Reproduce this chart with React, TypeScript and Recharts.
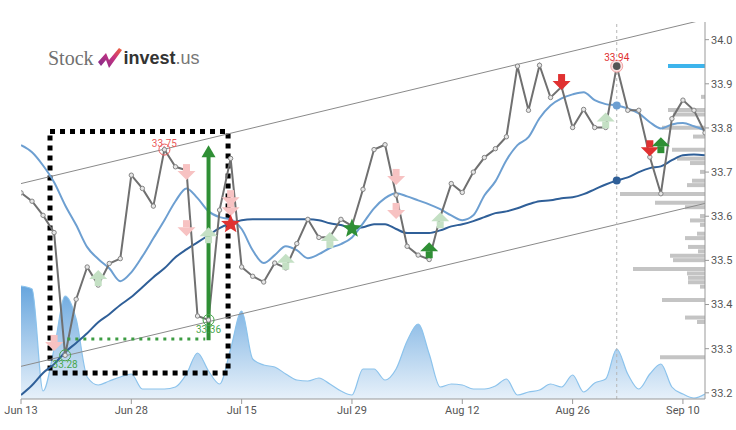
import React from "react";
import {
  ComposedChart,
  Line,
  Area,
  Bar,
  Cell,
  Scatter,
  XAxis,
  YAxis,
  ReferenceLine,
  ReferenceArea,
} from "recharts";

// trading-day index of each x tick and its label
const tickDays = [0, 10, 20, 30, 40, 50, 60];
const tickLabels = ["Jun 13", "Jun 28", "Jul 15", "Jul 29", "Aug 12", "Aug 26", "Sep 10"];
const priceTicks = [33.2, 33.3, 33.4, 33.5, 33.6, 33.7, 33.8, 33.9, 34.0];

const closes = [
  33.653, 33.634, 33.602, 33.563, 33.285, 33.412, 33.485, 33.444, 33.493, 33.504,
  33.693, 33.663, 33.623, 33.751, 33.712, 33.704, 33.374, 33.365, 33.614, 33.731,
  33.485, 33.464, 33.451, 33.494, 33.483, 33.538, 33.593, 33.552, 33.553, 33.593,
  33.578, 33.661, 33.751, 33.762, 33.648, 33.532, 33.512, 33.502, 33.598, 33.674,
  33.654, 33.7, 33.733, 33.753, 33.78, 33.94, 33.84, 33.942, 33.869, 33.893,
  33.801, 33.842, 33.801, 33.801, 33.94, 33.84, 33.84, 33.734, 33.651, 33.821,
  33.863, 33.84, 33.789,
];

const maFast = [
  33.761, 33.745, 33.715, 33.677, 33.625, 33.58, 33.53, 33.503, 33.482, 33.453,
  33.473, 33.509, 33.55, 33.591, 33.634, 33.663, 33.641, 33.611, 33.598, 33.593,
  33.571, 33.523, 33.494, 33.512, 33.532, 33.523, 33.505, 33.514, 33.528, 33.537,
  33.552, 33.584, 33.618, 33.641, 33.652, 33.645, 33.636, 33.627, 33.616, 33.602,
  33.591, 33.602, 33.647, 33.679, 33.727, 33.761, 33.779, 33.822, 33.851, 33.867,
  33.876, 33.881, 33.863, 33.854, 33.851, 33.844, 33.833, 33.813, 33.799, 33.808,
  33.811, 33.804, 33.795,
];

const maSlow = [
  33.195, 33.217, 33.245, 33.265, 33.292, 33.313, 33.335, 33.36, 33.378, 33.399,
  33.417, 33.439, 33.462, 33.482, 33.507, 33.525, 33.541, 33.557, 33.573, 33.584,
  33.591, 33.593, 33.593, 33.593, 33.593, 33.593, 33.593, 33.591, 33.584, 33.58,
  33.573, 33.575, 33.582, 33.582, 33.571, 33.562, 33.562, 33.562, 33.568, 33.577,
  33.582, 33.589, 33.598, 33.607, 33.611, 33.618, 33.627, 33.634, 33.636, 33.641,
  33.643, 33.65, 33.661, 33.672, 33.681, 33.688, 33.7, 33.709, 33.713, 33.727,
  33.738, 33.74, 33.738,
];

// daily volume, thousands
const volume = [
  1130, 1100, 80, 500, 1030, 800, 220, 140, 180, 220,
  250, 100, 100, 100, 120, 250, 460, 280, 150, 500,
  880, 400, 340, 320, 250, 190, 180, 210, 150, 80,
  40, 300, 300, 190, 300, 580, 750, 450, 120, 150,
  140, 100, 100, 130, 200, 40, 70, 90, 150, 120,
  240, 70, 160, 200, 500, 250, 100, 250, 350, 120,
  50, 10, 50,
];

// trend channel end points [day, price]
const channelTop = [[0, 33.674], [62, 34.046]];
const channelBottom = [[0, 33.26], [62, 33.629]];

// volume at price (right side), first row is the highlighted level
const profilePrice = [
  33.94, 33.87, 33.84, 33.83, 33.8, 33.78, 33.75, 33.73, 33.72, 33.7, 33.68, 33.67,
  33.65, 33.63, 33.62, 33.6, 33.59, 33.58, 33.56, 33.55, 33.53, 33.52, 33.51, 33.5,
  33.48, 33.47, 33.46, 33.45, 33.44, 33.41, 33.37, 33.36, 33.28,
];
const profileVol = [
  37, 4, 37, 32, 43, 12, 33, 28, 15, 5, 13, 18,
  85, 50, 20, 5, 15, 5, 8, 20, 17, 7, 35, 32,
  72, 18, 17, 17, 5, 43, 20, 8, 45,
];

// signals [day, price, strong]
const sellSignals = [
  [3, 33.313, 0], [15, 33.7, 0], [15, 33.573, 0], [19, 33.641, 0], [19, 33.618, 0],
  [34, 33.689, 0], [34, 33.612, 0], [49, 33.904, 1], [57, 33.754, 1],
];
const buySignals = [
  [7, 33.46, 0], [17, 33.557, 0], [24, 33.497, 0], [28, 33.546, 0], [37, 33.523, 1],
  [38, 33.591, 0], [53, 33.817, 0], [58, 33.761, 1],
];
const starSignals = [[19, 33.582, "sell"], [30, 33.572, "buy"]];

// marked highs and lows [day, price, label, kind]
const pivots = [
  [4, 33.285, "33.28", "low"],
  [17, 33.365, "33.36", "low"],
  [13, 33.751, "33.75", "high"],
  [54, 33.94, "33.94", "top"],
];

const RED = "#e03131";
const GREEN = "#2f8f35";
const PINK = "#f7c2c2";
const PALE_GREEN = "#c4e0c4";

const rows = closes.map((c, i) => ({ i, close: c, fast: maFast[i], slow: maSlow[i], vol: volume[i] }));
const sells = sellSignals.map(([i, p, s]) => ({ i, p, s }));
const buys = buySignals.map(([i, p, s]) => ({ i, p, s }));
const stars = starSignals.map(([i, p, k]) => ({ i, p, k }));
const pivotRows = pivots.map(([i, p, label, kind]) => ({ i, p, label, kind }));
const profile = profilePrice.map((price, k) => ({ price, vol: profileVol[k] }));

const DOMAIN: [number, number] = [33.186, 34.04];

function SellArrow(props: any) {
  const { cx, cy, payload } = props;
  const c = payload.s ? RED : PINK;
  return (
    <g>
      <rect x={cx - 3.5} y={cy - 8} width={7} height={7} fill={c} />
      <polygon points={`${cx - 9},${cy - 1} ${cx + 9},${cy - 1} ${cx},${cy + 8}`} fill={c} />
    </g>
  );
}

function BuyArrow(props: any) {
  const { cx, cy, payload } = props;
  const c = payload.s ? GREEN : PALE_GREEN;
  return (
    <g>
      <polygon points={`${cx - 9},${cy + 1} ${cx + 9},${cy + 1} ${cx},${cy - 8}`} fill={c} />
      <rect x={cx - 3.5} y={cy + 1} width={7} height={7} fill={c} />
    </g>
  );
}

function Star(props: any) {
  const { cx, cy, payload } = props;
  const pts: string[] = [];
  for (let k = 0; k < 10; k++) {
    const r = k % 2 === 0 ? 10 : 4.3;
    const a = -Math.PI / 2 + (k * Math.PI) / 5;
    pts.push(`${cx + r * Math.cos(a)},${cy + r * Math.sin(a)}`);
  }
  return <polygon points={pts.join(" ")} fill={payload.k === "sell" ? RED : GREEN} />;
}

function Pivot(props: any) {
  const { cx, cy, payload } = props;
  if (payload.kind === "top") {
    return (
      <g>
        <circle cx={cx} cy={cy} r={6} fill="#fbe3e3" stroke="#f3a3a3" strokeWidth={1} />
        <circle cx={cx} cy={cy} r={3.8} fill="#555" />
        <text x={cx} y={cy - 5} textAnchor="middle" fontSize={10} fill={RED} fontFamily="Roboto">
          {payload.label}
        </text>
      </g>
    );
  }
  const c = payload.kind === "low" ? "#48a64e" : "#ea5a5a";
  const ty = payload.kind === "low" ? cy + 13 : cy - 3;
  return (
    <g>
      <circle cx={cx} cy={cy} r={5.5} fill="none" stroke={c} strokeWidth={1} />
      <text x={cx} y={ty} textAnchor="middle" fontSize={10} fill={c} fontFamily="Roboto">
        {payload.label}
      </text>
    </g>
  );
}

function UpArrowLine(props: any) {
  const { x1, y1, x2, y2 } = props;
  return (
    <g>
      <line x1={x1} y1={y1} x2={x2} y2={y2 + 10} stroke={GREEN} strokeWidth={4} />
      <polygon points={`${x2 - 7},${y2 + 12} ${x2 + 7},${y2 + 12} ${x2},${y2}`} fill={GREEN} />
    </g>
  );
}

const markAt = (color: string) => (p: any) =>
  p.index === 54 ? <circle key={p.index} cx={p.cx} cy={p.cy} r={4} fill={color} /> : <g key={p.index} />;

function Logo() {
  return (
    <div style={{ position: "absolute", left: 48, top: 45, display: "flex", alignItems: "center", height: 26 }}>
      <span style={{ fontFamily: '"Liberation Serif", serif', fontSize: 20, color: "#707070" }}>Stock</span>
      <svg width={26} height={22} style={{ margin: "0 1px 0 3px" }}>
        <defs>
          <linearGradient id="lg" x1="0" y1="1" x2="1" y2="0">
            <stop offset="0" stopColor="#7a2a8c" />
            <stop offset="0.6" stopColor="#c8337f" />
            <stop offset="1" stopColor="#f0643a" />
          </linearGradient>
        </defs>
        <path d="M1 15 L9 6 L12 13 L22 1 L25 3 L12 21 L9 13 L4 19 Z" fill="url(#lg)" />
      </svg>
      <span style={{ fontFamily: '"Liberation Sans", sans-serif', fontSize: 18, fontWeight: 700, color: "#333" }}>
        invest
      </span>
      <span style={{ fontFamily: '"Liberation Sans", sans-serif', fontSize: 18, color: "#777" }}>.us</span>
    </div>
  );
}

export default function App() {
  return (
    <div style={{ position: "absolute", left: 0, top: 0, width: 736, height: 430, background: "#fff" }}>
      {/* volume-at-price bars sit underneath the price chart */}
      <div style={{ position: "absolute", left: 0, top: 0 }}>
        <ComposedChart
          width={736}
          height={430}
          data={profile}
          layout="vertical"
          margin={{ top: 22, right: 31, left: 21, bottom: 31 }}
        >
          <XAxis type="number" domain={[0, 684]} reversed hide allowDataOverflow />
          <YAxis type="number" dataKey="price" domain={DOMAIN} reversed hide allowDataOverflow />
          <Bar dataKey="vol" barSize={4} isAnimationActive={false}>
            {profile.map((_, k) => (
              <Cell key={k} fill={k === 0 ? "#3db4ec" : "#c4c4c4"} />
            ))}
          </Bar>
        </ComposedChart>
      </div>
      <div style={{ position: "absolute", left: 0, top: 0 }}>
        <ComposedChart width={736} height={430} data={rows} margin={{ top: 22, right: 0, left: 21, bottom: 6 }}>
          <defs>
            <linearGradient id="volFill" gradientUnits="userSpaceOnUse" x1="0" y1="282" x2="0" y2="399">
              <stop offset="0" stopColor="#5a9edb" stopOpacity={0.95} />
              <stop offset="1" stopColor="#e4eff9" stopOpacity={0.9} />
            </linearGradient>
          </defs>
          <XAxis
            type="number"
            dataKey="i"
            domain={[0, 62]}
            allowDataOverflow
            ticks={tickDays}
            tickFormatter={(v) => tickLabels[tickDays.indexOf(v)]}
            height={25}
            tickSize={5}
            stroke="#999"
            tick={{ fill: "#555", fontSize: 11, fontFamily: "Roboto" }}
          />
          <YAxis
            yAxisId="p"
            orientation="right"
            domain={DOMAIN}
            allowDataOverflow
            ticks={priceTicks}
            tickFormatter={(v) => v.toFixed(1)}
            width={31}
            tickSize={4}
            stroke="#999"
            tick={{ fill: "#555", fontSize: 11, fontFamily: "Roboto" }}
          />
          <YAxis yAxisId="v" hide domain={[0, 3770]} allowDataOverflow />
          <Area
            yAxisId="v"
            type="monotone"
            dataKey="vol"
            stroke="#8cc3ec"
            strokeWidth={1.2}
            fill="url(#volFill)"
            fillOpacity={1}
            isAnimationActive={false}
          />
          <ReferenceLine
            yAxisId="p"
            segment={channelTop.map(([x, y]) => ({ x, y }))}
            stroke="#8a8a8a"
            strokeWidth={1}
            ifOverflow="hidden"
          />
          <ReferenceLine
            yAxisId="p"
            segment={channelBottom.map(([x, y]) => ({ x, y }))}
            stroke="#8a8a8a"
            strokeWidth={1}
            ifOverflow="hidden"
          />
          <ReferenceLine yAxisId="p" x={54} stroke="#b5b5b5" strokeDasharray="3 3" />
          <Line
            yAxisId="p"
            type="monotone"
            dataKey="slow"
            stroke="#2f5f98"
            strokeWidth={2}
            dot={markAt("#2f5f98")}
            isAnimationActive={false}
          />
          <Line
            yAxisId="p"
            type="monotone"
            dataKey="fast"
            stroke="#6d9fd1"
            strokeWidth={2}
            dot={markAt("#6d9fd1")}
            isAnimationActive={false}
          />
          <Line
            yAxisId="p"
            type="linear"
            dataKey="close"
            stroke="#707070"
            strokeWidth={2}
            dot={{ r: 2.2, fill: "#e6e6e6", stroke: "#858585", strokeWidth: 1 }}
            isAnimationActive={false}
          />
          <ReferenceArea
            yAxisId="p"
            x1={2.63}
            x2={18.77}
            y1={33.245}
            y2={33.792}
            fill="none"
            fillOpacity={0}
            stroke="#000"
            strokeWidth={5}
            strokeDasharray="5 5"
          />
          <ReferenceLine
            yAxisId="p"
            segment={[{ x: 4.2, y: 33.322 }, { x: 16.7, y: 33.322 }]}
            stroke="#3d9c43"
            strokeWidth={3}
            strokeDasharray="3 5"
          />
          <ReferenceLine
            yAxisId="p"
            segment={[{ x: 17, y: 33.319 }, { x: 17, y: 33.761 }]}
            shape={UpArrowLine}
          />
          <Scatter yAxisId="p" data={sells} dataKey="p" shape={SellArrow} isAnimationActive={false} />
          <Scatter yAxisId="p" data={buys} dataKey="p" shape={BuyArrow} isAnimationActive={false} />
          <Scatter yAxisId="p" data={stars} dataKey="p" shape={Star} isAnimationActive={false} />
          <Scatter yAxisId="p" data={pivotRows} dataKey="p" shape={Pivot} isAnimationActive={false} />
        </ComposedChart>
      </div>
      <Logo />
    </div>
  );
}
